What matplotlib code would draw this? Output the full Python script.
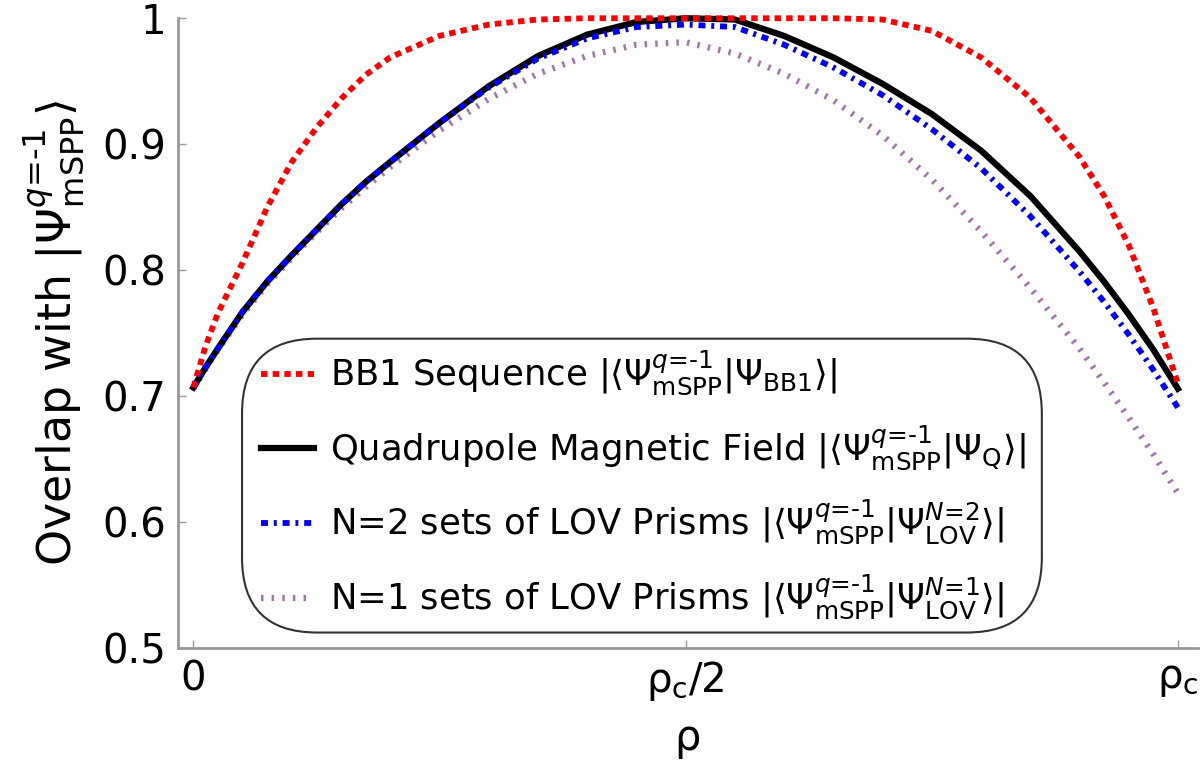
import matplotlib
matplotlib.use("Agg")
import matplotlib.pyplot as plt
from matplotlib.patches import FancyBboxPatch
from matplotlib.transforms import IdentityTransform
import numpy as np

plt.rcParams['font.family'] = ['DejaVu Sans']
plt.rcParams['mathtext.fontset'] = 'dejavusans'

# ---- data ----
rho = [0, 0.0125, 0.025, 0.05, 0.075, 0.1, 0.125, 0.15, 0.175, 0.2, 0.25, 0.3, 0.35, 0.4,
       0.45, 0.5, 0.55, 0.6, 0.65, 0.7, 0.75, 0.8, 0.85, 0.9, 0.925, 0.95, 0.975, 1.0]

bb1 = [0.707, 0.740, 0.766, 0.806, 0.850, 0.886, 0.913, 0.936, 0.955, 0.969, 0.986, 0.995,
       0.999, 1.0, 1.0, 1.0, 1.0, 1.0, 1.0, 0.999, 0.990, 0.969, 0.937, 0.890, 0.859, 0.820,
       0.770, 0.710]
quad = [0.707, 0.723, 0.738, 0.767, 0.791, 0.812, 0.832, 0.852, 0.870, 0.886, 0.917, 0.946,
        0.970, 0.987, 0.997, 1.0, 0.999, 0.986, 0.969, 0.948, 0.924, 0.895, 0.859, 0.815,
        0.791, 0.765, 0.737, 0.706]
lov2 = [0.707, 0.723, 0.738, 0.767, 0.791, 0.812, 0.832, 0.852, 0.870, 0.886, 0.917, 0.945,
        0.968, 0.984, 0.993, 0.995, 0.993, 0.979, 0.961, 0.939, 0.912, 0.881, 0.843, 0.799,
        0.775, 0.749, 0.721, 0.691]
lov1 = [0.706, 0.722, 0.737, 0.765, 0.789, 0.810, 0.830, 0.849, 0.866, 0.882, 0.911, 0.936,
        0.956, 0.970, 0.979, 0.981, 0.972, 0.956, 0.935, 0.907, 0.872, 0.831, 0.786, 0.738,
        0.711, 0.683, 0.654, 0.623]

xticks = [0, 0.5, 1.0]
xticklabels = ['0', r'ρ$_\mathrm{c}$/2', r'ρ$_\mathrm{c}$']
yticks = [0.5, 0.6, 0.7, 0.8, 0.9, 1.0]
yticklabels = ['0.5', '0.6', '0.7', '0.8', '0.9', '1']

labels = [
    r'BB1 Sequence $|\langle\Psi^{q\text{=-}1}_{\mathrm{mSPP}}|\Psi_{\mathrm{BB1}}\rangle|$',
    r'Quadrupole Magnetic Field $|\langle\Psi^{q\text{=-}1}_{\mathrm{mSPP}}|\Psi_{\mathrm{Q}}\rangle|$',
    r'N=2 sets of LOV Prisms $|\langle\Psi^{q\text{=-}1}_{\mathrm{mSPP}}|\Psi^{N\text{=}2}_{\mathrm{LOV}}\rangle|$',
    r'N=1 sets of LOV Prisms $|\langle\Psi^{q\text{=-}1}_{\mathrm{mSPP}}|\Psi^{N\text{=}1}_{\mathrm{LOV}}\rangle|$',
]

fig = plt.figure(figsize=(12, 7.6), dpi=100)
ax = fig.add_axes([0.148, 0.147, 0.85, 0.829])

l4, = ax.plot(rho, lov1, color='#a276ad', lw=4.5, linestyle=(0, (0.4, 1.3)),
              solid_capstyle='butt', dash_capstyle='butt', zorder=2.0, clip_on=False)
l2, = ax.plot(rho, quad, color='black', lw=4.5, zorder=2.1, clip_on=False)
l3, = ax.plot(rho, lov2, color='#0000ff', lw=4.2, linestyle=(0, (1.2, 1.0, 0.5, 1.0)),
              dash_capstyle='butt', zorder=2.2, clip_on=False)
l1, = ax.plot(rho, bb1, color='#ff0000', lw=4.2, linestyle=(0, (1.1, 0.9)),
              dash_capstyle='butt', zorder=2.3, clip_on=False)

ax.set_xlim(-0.016, 1.02)
ax.set_ylim(0.5, 1.0)
ax.set_xticks(xticks)
ax.set_xticklabels(xticklabels)
ax.set_yticks(yticks)
ax.set_yticklabels(yticklabels)
ax.tick_params(direction='in', length=6, width=1, color='#999999', labelsize=29, pad=8)

for s in ['top', 'right']:
    ax.spines[s].set_visible(False)
for s in ['left', 'bottom']:
    ax.spines[s].set_color('#999999')
    ax.spines[s].set_linewidth(2)

ax.set_xlabel('ρ', fontsize=30, labelpad=10)
ax.set_ylabel(r'Overlap with $|\Psi^{q\text{=-}1}_{\mathrm{mSPP}}\rangle$', fontsize=33, labelpad=12)

leg = ax.legend([l1, l2, l3, l4], labels, loc='lower left', bbox_to_anchor=(0.071, 0.025),
                borderaxespad=0.0,
                fontsize=25.5, frameon=False, handlelength=1.5,
                handletextpad=0.45, labelspacing=0.72, borderpad=0.3)
leg.set_zorder(5)

fig.canvas.draw()
bb = leg.get_window_extent()
box = FancyBboxPatch((bb.x0 - 8, bb.y0), bb.width + 14, bb.height,
                     boxstyle='round,pad=0,rounding_size=75',
                     transform=IdentityTransform(), facecolor='white',
                     edgecolor='#333333', linewidth=1.5, zorder=4, clip_on=False)
ax.add_artist(box)

fig.savefig('out.png', dpi=100)
